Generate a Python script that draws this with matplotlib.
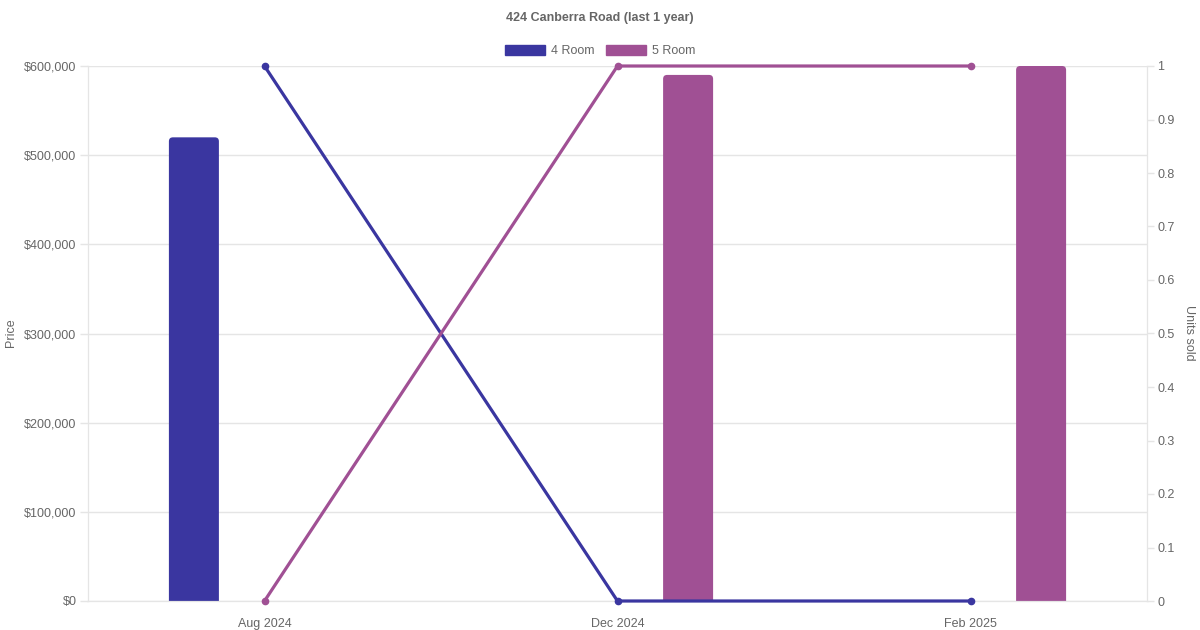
import matplotlib
matplotlib.use("Agg")
import matplotlib.pyplot as plt
from matplotlib.patches import FancyBboxPatch, Patch
from matplotlib.ticker import FuncFormatter, MultipleLocator

months = ["Aug 2024", "Dec 2024", "Feb 2025"]
series = ["4 Room", "5 Room"]
colors = ["#3a36a0", "#a05094"]
# average price per month (None = no sale)
price_4room = [520000, None, None]
price_5room = [None, 590000, 600000]
# units sold per month
units_4room = [1, 0, 0]
units_5room = [0, 1, 1]

plt.rcParams["font.family"] = ["Liberation Sans", "DejaVu Sans"]
grey = "#666666"
grid = "#e5e5e5"
fs = 9

fig = plt.figure(figsize=(12, 6.3), dpi=100)
ax = fig.add_axes([88 / 1200, 29 / 630, 1059 / 1200, 535 / 630])
ax2 = ax.twinx()

x = list(range(len(months)))
ax.set_xlim(-0.5, len(months) - 0.5)
ax.set_ylim(0, 600000)
ax2.set_ylim(0, 1)

# bars with rounded top corners
bar_w = 50 / 353
radius = 4 / 353
aspect = (600000 / 535) / (3 / 1059)
offsets = [-0.2, 0.2]
for prices, off, c in zip([price_4room, price_5room], offsets, colors):
    for xi, p in zip(x, prices):
        if p is None:
            continue
        low = -radius * aspect * 2
        box = FancyBboxPatch((xi + off - bar_w / 2, low), bar_w, p - low,
                             boxstyle=f"round,pad=0,rounding_size={radius}",
                             mutation_aspect=aspect, facecolor=c,
                             edgecolor="none", zorder=2)
        ax.add_patch(box)

for units, c in zip([units_4room, units_5room], colors):
    ax2.plot(x, units, color=c, lw=2.3, marker="o", ms=4.5, clip_on=False,
             zorder=3)

ax.yaxis.set_major_locator(MultipleLocator(100000))
ax.yaxis.set_major_formatter(FuncFormatter(lambda v, _: f"${v:,.0f}"))
ax2.yaxis.set_major_locator(MultipleLocator(0.1))
ax2.yaxis.set_major_formatter(FuncFormatter(lambda v, _: f"{v:g}"))
ax.set_xticks(x)
ax.set_xticklabels(months)

ax.grid(axis="y", color=grid, lw=1)
ax.set_axisbelow(True)
for a in (ax, ax2):
    for s in a.spines.values():
        s.set_color(grid)
    a.spines["top"].set_visible(False)
ax.tick_params(axis="y", colors=grid, labelcolor=grey, labelsize=fs,
               length=5.8, width=1, pad=2.5)
ax.tick_params(axis="x", length=0, labelcolor=grey, labelsize=fs, pad=12)
ax2.tick_params(axis="y", colors=grid, labelcolor=grey, labelsize=fs,
                length=5, width=1, pad=2.5)

fig.text(11 / 1200, 1 - 333 / 630, "Price", rotation=90, ha="center",
         va="center", color=grey, fontsize=fs)
fig.text(1189 / 1200, 1 - 333 / 630, "Units sold", rotation=270, ha="center",
         va="center", color=grey, fontsize=fs)

fig.text(0.5, 1 - 18 / 630, "424 Canberra Road (last 1 year)", ha="center",
         va="center", color=grey, fontsize=fs, fontweight="bold")

handles = [Patch(facecolor=c, edgecolor=c, label=s)
           for s, c in zip(series, colors)]
fig.legend(handles=handles, loc="center", bbox_to_anchor=(0.5, 1 - 51 / 630),
           ncol=2, frameon=False, fontsize=fs, labelcolor=grey,
           handlelength=3.2, handleheight=0.95, handletextpad=0.5,
           columnspacing=0.9)

fig.savefig("out.png", dpi=100)
